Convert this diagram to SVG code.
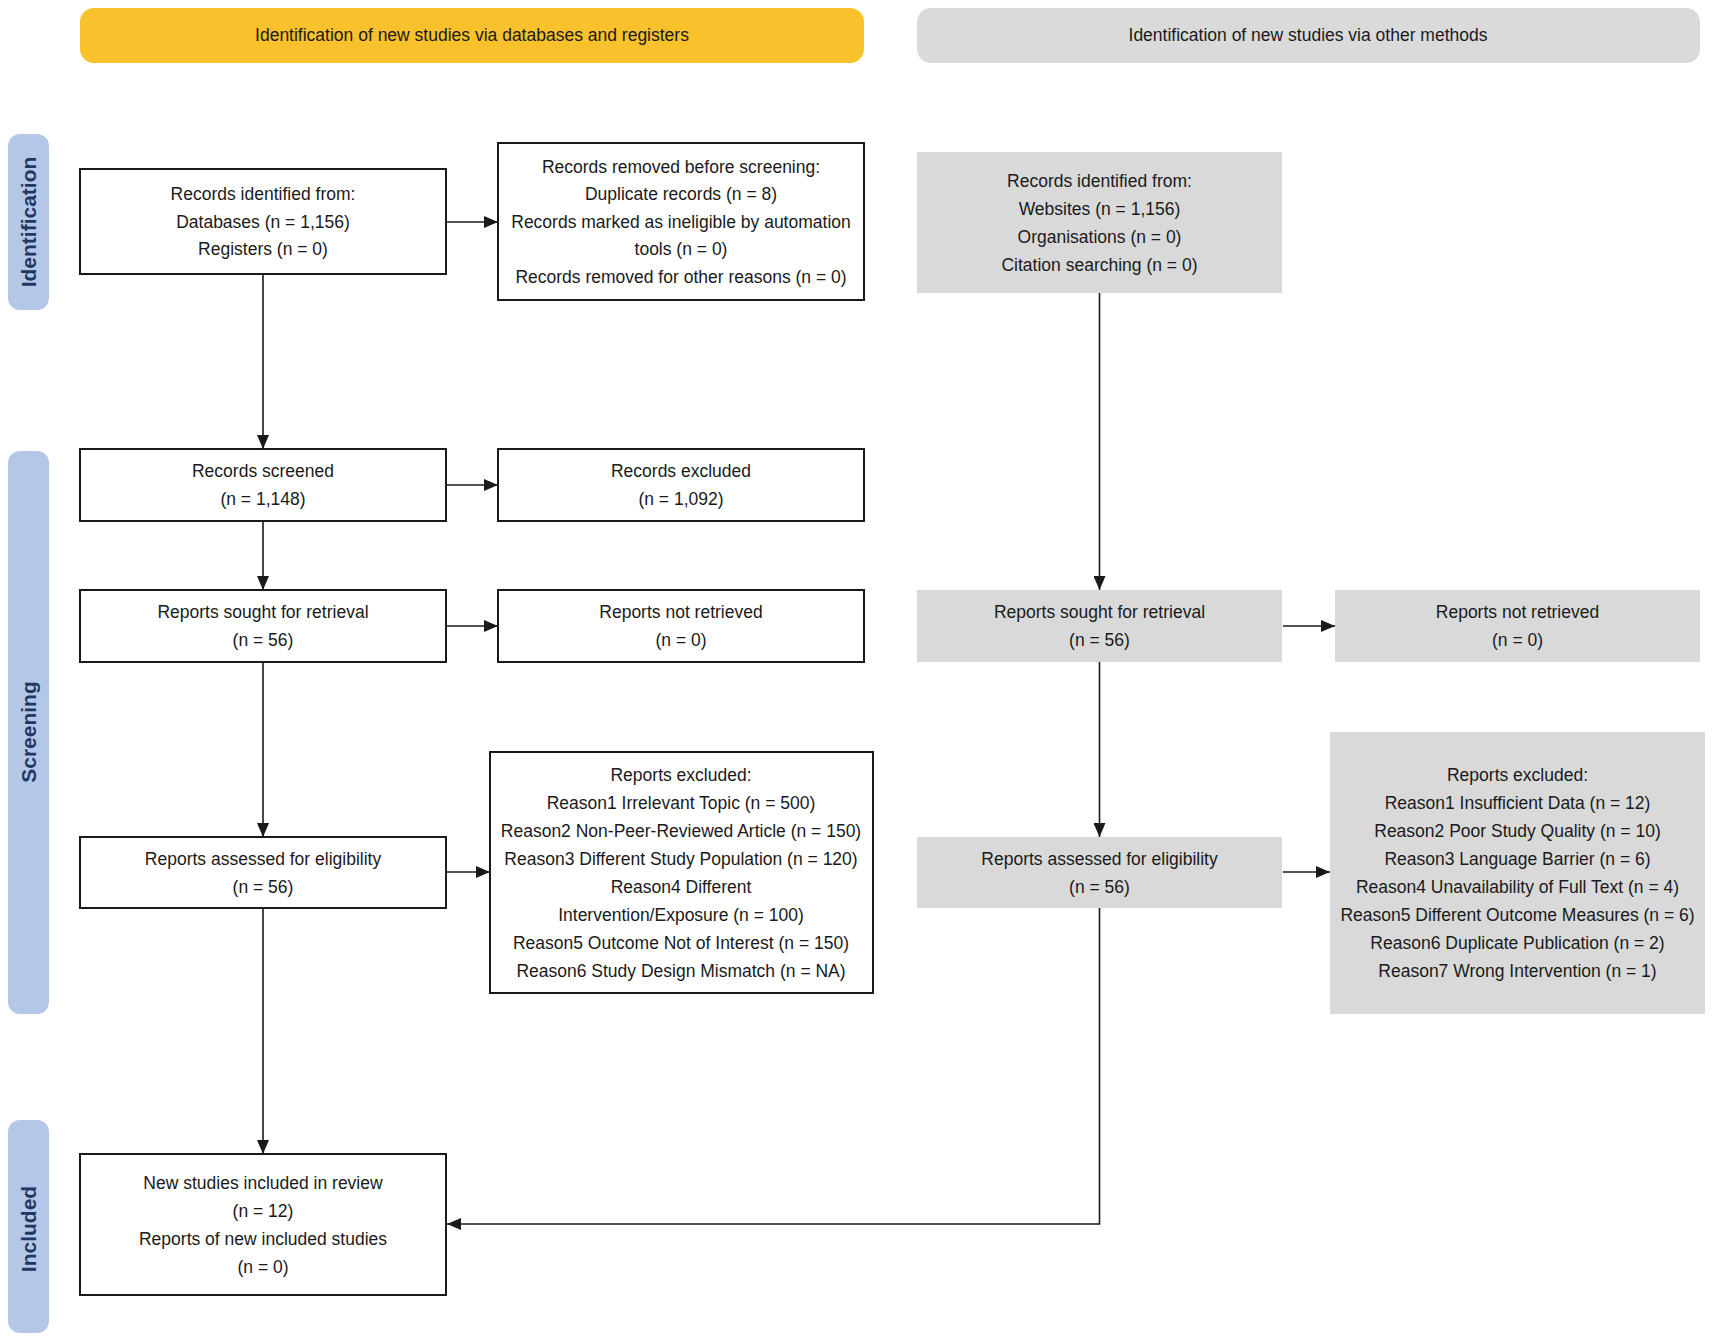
<svg xmlns="http://www.w3.org/2000/svg" width="1713" height="1338" viewBox="0 0 1713 1338">
<defs>
<style>
text{font-family:"Liberation Sans",Arial,sans-serif;font-size:17.5px;fill:#1a1a1a;text-anchor:middle}
.side text{font-size:21px;font-weight:bold;fill:#1f3864}
.wbox{fill:#fff;stroke:#1a1a1a;stroke-width:2}
.gbox{fill:#d9d9d9;stroke:none}
.side rect{fill:#b4c7e7}
.conn line,.conn polyline{stroke:#1a1a1a;stroke-width:1.6;fill:none}
</style>
<marker id="ah" viewBox="0 0 14 12" refX="14" refY="6" markerWidth="14" markerHeight="12" markerUnits="userSpaceOnUse" orient="auto">
<path d="M0,0 L14,6 L0,12 z" fill="#1a1a1a"/>
</marker>
</defs>
<rect width="1713" height="1338" fill="#fff"/>

<g id="banner-db">
<rect x="80" y="8" width="784" height="55" rx="14" fill="#f9c12b"/>
<text x="472" y="41">Identification of new studies via databases and registers</text>
</g>
<g id="banner-other">
<rect x="917" y="8" width="783" height="55" rx="14" fill="#dadada"/>
<text x="1308" y="41">Identification of new studies via other methods</text>
</g>

<g class="side" id="side-identification">
<rect x="8" y="134" width="41" height="176" rx="12"/>
<text transform="translate(36,222) rotate(-90)">Identification</text>
</g>
<g class="side" id="side-screening">
<rect x="8" y="451" width="41" height="563" rx="12"/>
<text transform="translate(36,732) rotate(-90)">Screening</text>
</g>
<g class="side" id="side-included">
<rect x="8" y="1120" width="41" height="213" rx="12"/>
<text transform="translate(36,1229) rotate(-90)">Included</text>
</g>

<g id="records-identified-db">
<rect class="wbox" x="80" y="169" width="366" height="105"/>
<text x="263" y="200">Records identified from:</text>
<text x="263" y="227.5">Databases (n = 1,156)</text>
<text x="263" y="255">Registers (n = 0)</text>
</g>
<g id="records-removed">
<rect class="wbox" x="498" y="143" width="366" height="157"/>
<text x="681" y="172.5">Records removed before screening:</text>
<text x="681" y="200">Duplicate records (n = 8)</text>
<text x="681" y="227.5">Records marked as ineligible by automation</text>
<text x="681" y="255">tools (n = 0)</text>
<text x="681" y="282.5">Records removed for other reasons (n = 0)</text>
</g>
<g id="records-screened">
<rect class="wbox" x="80" y="449" width="366" height="72"/>
<text x="263" y="477">Records screened</text>
<text x="263" y="505">(n = 1,148)</text>
</g>
<g id="records-excluded">
<rect class="wbox" x="498" y="449" width="366" height="72"/>
<text x="681" y="477">Records excluded</text>
<text x="681" y="505">(n = 1,092)</text>
</g>
<g id="reports-sought-db">
<rect class="wbox" x="80" y="590" width="366" height="72"/>
<text x="263" y="618">Reports sought for retrieval</text>
<text x="263" y="646">(n = 56)</text>
</g>
<g id="reports-not-retrieved-db">
<rect class="wbox" x="498" y="590" width="366" height="72"/>
<text x="681" y="618">Reports not retrieved</text>
<text x="681" y="646">(n = 0)</text>
</g>
<g id="reports-assessed-db">
<rect class="wbox" x="80" y="837" width="366" height="71"/>
<text x="263" y="864.5">Reports assessed for eligibility</text>
<text x="263" y="892.5">(n = 56)</text>
</g>
<g id="reports-excluded-db">
<rect class="wbox" x="490" y="752" width="383" height="241"/>
<text x="681" y="780.5">Reports excluded:</text>
<text x="681" y="808.5">Reason1 Irrelevant Topic (n = 500)</text>
<text x="681" y="836.5">Reason2 Non-Peer-Reviewed Article (n = 150)</text>
<text x="681" y="864.5">Reason3 Different Study Population (n = 120)</text>
<text x="681" y="892.5">Reason4 Different</text>
<text x="681" y="920.5">Intervention/Exposure (n = 100)</text>
<text x="681" y="948.5">Reason5 Outcome Not of Interest (n = 150)</text>
<text x="681" y="976.5">Reason6 Study Design Mismatch (n = NA)</text>
</g>
<g id="new-studies-included">
<rect class="wbox" x="80" y="1154" width="366" height="141"/>
<text x="263" y="1188.5">New studies included in review</text>
<text x="263" y="1216.5">(n = 12)</text>
<text x="263" y="1244.5">Reports of new included studies</text>
<text x="263" y="1272.5">(n = 0)</text>
</g>

<g id="records-identified-other">
<rect class="gbox" x="917" y="152" width="365" height="141"/>
<text x="1099.5" y="186.5">Records identified from:</text>
<text x="1099.5" y="214.5">Websites (n = 1,156)</text>
<text x="1099.5" y="242.5">Organisations (n = 0)</text>
<text x="1099.5" y="270.5">Citation searching (n = 0)</text>
</g>
<g id="reports-sought-other">
<rect class="gbox" x="917" y="590" width="365" height="72"/>
<text x="1099.5" y="618">Reports sought for retrieval</text>
<text x="1099.5" y="646">(n = 56)</text>
</g>
<g id="reports-not-retrieved-other">
<rect class="gbox" x="1335" y="590" width="365" height="72"/>
<text x="1517.5" y="618">Reports not retrieved</text>
<text x="1517.5" y="646">(n = 0)</text>
</g>
<g id="reports-assessed-other">
<rect class="gbox" x="917" y="837" width="365" height="71"/>
<text x="1099.5" y="864.5">Reports assessed for eligibility</text>
<text x="1099.5" y="892.5">(n = 56)</text>
</g>
<g id="reports-excluded-other">
<rect class="gbox" x="1330" y="732" width="375" height="282"/>
<text x="1517.5" y="780.5">Reports excluded:</text>
<text x="1517.5" y="808.5">Reason1 Insufficient Data (n = 12)</text>
<text x="1517.5" y="836.5">Reason2 Poor Study Quality (n = 10)</text>
<text x="1517.5" y="864.5">Reason3 Language Barrier (n = 6)</text>
<text x="1517.5" y="892.5">Reason4 Unavailability of Full Text (n = 4)</text>
<text x="1517.5" y="920.5">Reason5 Different Outcome Measures (n = 6)</text>
<text x="1517.5" y="948.5">Reason6 Duplicate Publication (n = 2)</text>
<text x="1517.5" y="976.5">Reason7 Wrong Intervention (n = 1)</text>
</g>

<g class="conn" id="connectors">
<line x1="263" y1="275" x2="263" y2="449" marker-end="url(#ah)"/>
<line x1="447" y1="222" x2="498" y2="222" marker-end="url(#ah)"/>
<line x1="447" y1="485" x2="498" y2="485" marker-end="url(#ah)"/>
<line x1="263" y1="522" x2="263" y2="590" marker-end="url(#ah)"/>
<line x1="447" y1="626" x2="498" y2="626" marker-end="url(#ah)"/>
<line x1="263" y1="663" x2="263" y2="837" marker-end="url(#ah)"/>
<line x1="447" y1="872" x2="490" y2="872" marker-end="url(#ah)"/>
<line x1="263" y1="909" x2="263" y2="1154" marker-end="url(#ah)"/>
<line x1="1099.5" y1="293" x2="1099.5" y2="590" marker-end="url(#ah)"/>
<line x1="1283" y1="626" x2="1335" y2="626" marker-end="url(#ah)"/>
<line x1="1099.5" y1="662" x2="1099.5" y2="837" marker-end="url(#ah)"/>
<line x1="1283" y1="872" x2="1330" y2="872" marker-end="url(#ah)"/>
<polyline points="1099.5,908 1099.5,1224 447,1224" marker-end="url(#ah)"/>
</g>
</svg>
